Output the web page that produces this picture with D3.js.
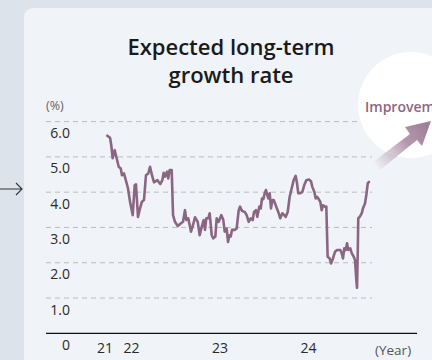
<!DOCTYPE html>
<html>
<head>
<meta charset="utf-8">
<script src="https://cdn.jsdelivr.net/npm/d3@7"></script>
<style>
  html, body { margin: 0; padding: 0; background: #dde3ea; }
  svg { display: block; }
  text { font-family: "Open Sans", "Noto Sans", sans-serif; }
</style>
</head>
<body>
<svg id="chart" width="432" height="360"></svg>
<script>
// ---- data (fractional year, % value) ----
const dates = [2021.732,2021.763,2021.777,2021.793,2021.816,2021.838,2021.861,2021.884,2021.898,2021.921,2021.936,2021.966,2021.989,2022.019,2022.042,2022.056,2022.079,2022.102,2022.124,2022.147,2022.169,2022.195,2022.215,2022.237,2022.260,2022.297,2022.331,2022.354,2022.369,2022.384,2022.407,2022.421,2022.437,2022.460,2022.475,2022.497,2022.528,2022.565,2022.588,2022.610,2022.625,2022.647,2022.678,2022.701,2022.723,2022.754,2022.776,2022.799,2022.821,2022.836,2022.851,2022.873,2022.889,2022.912,2022.930,2022.953,2022.968,2022.991,2023.020,2023.043,2023.059,2023.081,2023.096,2023.111,2023.127,2023.141,2023.172,2023.194,2023.217,2023.232,2023.254,2023.285,2023.307,2023.330,2023.353,2023.375,2023.390,2023.412,2023.427,2023.450,2023.466,2023.480,2023.495,2023.511,2023.525,2023.551,2023.567,2023.582,2023.597,2023.612,2023.635,2023.664,2023.687,2023.710,2023.732,2023.748,2023.771,2023.793,2023.816,2023.838,2023.861,2023.876,2023.890,2023.913,2023.936,2023.958,2023.981,2024.011,2024.034,2024.049,2024.071,2024.087,2024.102,2024.116,2024.139,2024.155,2024.169,2024.192,2024.207,2024.222,2024.245,2024.260,2024.282,2024.305,2024.328,2024.365,2024.381,2024.395,2024.410,2024.426,2024.441,2024.455,2024.478,2024.494,2024.517,2024.531,2024.546,2024.554,2024.562,2024.568,2024.584,2024.607,2024.621,2024.644,2024.659,2024.675,2024.689];
const values = [5.60,5.54,5.33,4.96,5.19,4.96,4.72,4.67,4.48,4.53,4.39,4.11,3.73,3.35,4.20,4.22,3.30,3.54,3.73,3.78,4.48,4.53,4.72,4.48,4.28,4.34,4.23,4.34,4.55,4.44,4.58,4.39,4.63,4.63,3.35,3.16,3.04,3.12,3.16,3.49,3.21,3.26,2.88,3.07,3.29,3.16,2.78,3.02,3.21,2.93,3.26,3.26,3.40,2.78,2.69,2.74,3.26,3.16,3.35,3.21,2.88,2.97,2.59,2.78,2.74,2.93,2.93,2.97,3.49,3.59,3.47,3.44,3.35,3.16,3.26,3.21,3.44,3.49,3.30,3.59,3.54,3.82,3.80,3.97,4.06,3.82,3.97,3.54,3.78,3.78,3.63,3.44,3.26,3.40,3.35,3.30,3.44,3.87,4.11,4.34,4.46,4.25,3.97,3.97,4.01,4.20,4.34,4.36,4.31,4.15,4.01,3.82,3.87,3.82,3.73,3.49,3.63,3.59,3.59,2.17,2.12,1.98,2.12,2.31,2.36,2.36,2.27,2.12,2.41,2.36,2.55,2.36,2.41,2.27,2.17,2.08,1.51,1.29,2.27,3.26,3.30,3.40,3.54,3.68,3.92,4.25,4.29];
const yTicks = [0, 1, 2, 3, 4, 5, 6];
const xTickValues = [2021.7, 2022, 2023, 2024];
const xTickLabels = ["21", "22", "23", "24"];
const title = ["Expected long-term", "growth rate"];
const unitLabel = "(%)";
const xUnitLabel = "(Year)";
const calloutText = "Improvement";

const svg = d3.select("#chart");
const lineColor = "#8b6683";

// panel
svg.append("rect").attr("x", 24).attr("y", 8).attr("width", 430).attr("height", 380)
  .attr("rx", 9).attr("fill", "#f0f3f7");

// left arrow
svg.append("path").attr("d", "M0,189 H22 M16,183 L22,189 L16,195")
  .attr("fill", "none").attr("stroke", "#333").attr("stroke-width", 1.1);

// title
svg.append("text").attr("text-anchor", "middle").attr("font-size", 22).attr("font-weight", 600)
  .attr("fill", "#1a1a1a")
  .selectAll("tspan").data(title).join("tspan")
  .attr("x", 231).attr("y", (d, i) => 55 + i * 28).text(d => d);

const x = d3.scaleLinear().domain([2022, 2024]).range([131, 308]);
const y = d3.scaleLinear().domain([0, 6]).range([333.3, 121.6]);

// gridlines
svg.append("g").selectAll("line").data(yTicks.filter(d => d > 0)).join("line")
  .attr("x1", 46).attr("x2", 372)
  .attr("y1", d => y(d)).attr("y2", d => y(d))
  .attr("stroke", "#bcbcbc").attr("stroke-width", 1).attr("stroke-dasharray", "5,4");

// y axis labels
const yAxis = d3.axisLeft(y).tickValues(yTicks).tickSize(0)
  .tickFormat(d => d === 0 ? "0" : d3.format(".1f")(d));
const gy = svg.append("g").attr("transform", "translate(70,0)").call(yAxis);
gy.select(".domain").remove();
gy.selectAll("text").attr("x", 0).attr("dy", null).attr("y", 16)
  .attr("font-size", 14).attr("fill", "#2a2a2a").attr("text-anchor", "end")
  .style("font-family", "'Open Sans', sans-serif");

svg.append("text").attr("x", 46).attr("y", 110).attr("font-size", 12.5).attr("fill", "#666")
  .text(unitLabel);

// x axis
svg.append("line").attr("x1", 46).attr("x2", 417).attr("y1", y(0)).attr("y2", y(0))
  .attr("stroke", "#111").attr("stroke-width", 1.3);
const xAxis = d3.axisBottom(x).tickValues(xTickValues).tickSize(0)
  .tickFormat((d, i) => xTickLabels[i]);
const gx = svg.append("g").attr("transform", `translate(0,${y(0)})`).call(xAxis);
gx.select(".domain").remove();
gx.selectAll("text").attr("dy", null).attr("y", 20)
  .attr("font-size", 14).attr("fill", "#2a2a2a")
  .style("font-family", "'Open Sans', sans-serif");
svg.append("text").attr("x", 375).attr("y", 355).attr("font-size", 13.5).attr("fill", "#555")
  .text(xUnitLabel);

// line
const data = dates.map((d, i) => ({ t: d, v: values[i] }));
svg.append("path").datum(data)
  .attr("d", d3.line().x(d => x(d.t)).y(d => y(d.v)))
  .attr("fill", "none").attr("stroke", lineColor).attr("stroke-width", 2.6)
  .attr("stroke-linejoin", "round").attr("stroke-linecap", "round");

// callout circle
svg.append("circle").attr("cx", 411).attr("cy", 105).attr("r", 53).attr("fill", "#ffffff");
svg.append("text").attr("x", 365).attr("y", 112).attr("font-size", 14).attr("font-weight", 600)
  .attr("fill", lineColor).text(calloutText);

// gradient arrow
const defs = svg.append("defs");
const grad = defs.append("linearGradient").attr("id", "ag")
  .attr("gradientUnits", "userSpaceOnUse")
  .attr("x1", 376).attr("y1", 168).attr("x2", 428).attr("y2", 126);
grad.append("stop").attr("offset", 0).attr("stop-color", "#a07e98").attr("stop-opacity", 0);
grad.append("stop").attr("offset", 0.6).attr("stop-color", "#a07e98").attr("stop-opacity", 0.8);
grad.append("stop").attr("offset", 1).attr("stop-color", "#a07e98").attr("stop-opacity", 1);
svg.append("path")
  .attr("d", "M373,162 L410,134 L405,127 L431,121 L422,146 L417,140 L380,170 Z")
  .attr("fill", "url(#ag)");
</script>
</body>
</html>
